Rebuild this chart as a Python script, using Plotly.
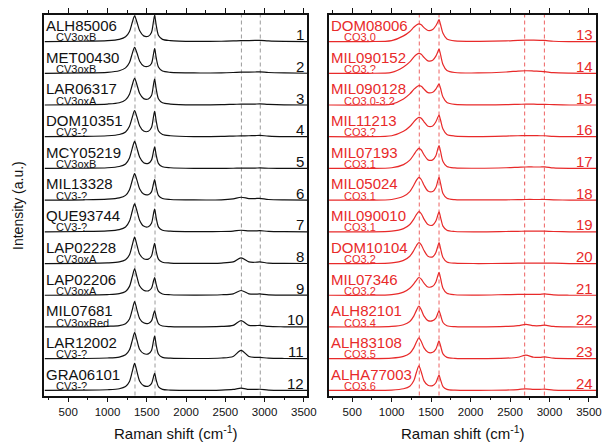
import plotly.graph_objects as go

# Raman shift sampling grid (cm-1)
shift = [200, 700, 1000, 1150, 1230, 1280, 1315, 1345, 1375, 1410, 1460, 1520, 1560, 1585, 1600,
         1620, 1650, 1700, 1800, 2100, 2450, 2600, 2700, 2800, 2880, 2940, 3050, 3250, 3600]

cv_names = ["ALH85006", "MET00430", "LAR06317", "DOM10351", "MCY05219", "MIL13328",
            "QUE93744", "LAP02228", "LAP02206", "MIL07681", "LAR12002", "GRA06101"]
cv_types = ["CV3oxB", "CV3oxB", "CV3oxA", "CV3-?", "CV3oxB", "CV3-?",
            "CV3-?", "CV3oxA", "CV3oxA", "CV3oxRed", "CV3-?", "CV3-?"]
cv_numbers = ["1", "2", "3", "4", "5", "6", "7", "8", "9", "10", "11", "12"]

co_names = ["DOM08006", "MIL090152", "MIL090128", "MIL11213", "MIL07193", "MIL05024",
            "MIL090010", "DOM10104", "MIL07346", "ALH82101", "ALH83108", "ALHA77003"]
co_types = ["CO3.0", "CO3.?", "CO3.0-3.2", "CO3.?", "CO3.1", "CO3.1",
            "CO3.1", "CO3.2", "CO3.2", "CO3.4", "CO3.5", "CO3.6"]
co_numbers = ["13", "14", "15", "16", "17", "18", "19", "20", "21", "22", "23", "24"]

# Intensities (a.u., one stack row = 1)
cv_spectra = [
    [.02,.03,.05,.09,.17,.34,.62,.83,.63,.36,.20,.19,.31,.65,.85,.54,.21,.09,.05,.025,.03,.04,.05,.05,.055,.06,.04,.025,.02],
    [.02,.03,.05,.10,.19,.36,.64,.84,.66,.40,.25,.24,.33,.62,.80,.51,.21,.09,.05,.03,.035,.045,.055,.055,.06,.065,.045,.03,.02],
    [.02,.03,.05,.09,.18,.36,.65,.86,.66,.38,.22,.21,.32,.65,.84,.53,.21,.09,.05,.025,.03,.04,.045,.045,.05,.055,.04,.025,.02],
    [.02,.03,.05,.09,.17,.35,.63,.84,.64,.36,.20,.19,.31,.64,.82,.52,.20,.09,.05,.025,.03,.04,.045,.05,.055,.06,.04,.025,.02],
    [.02,.025,.04,.08,.16,.35,.65,.87,.66,.37,.20,.18,.28,.55,.70,.44,.17,.07,.04,.02,.02,.025,.03,.03,.03,.035,.025,.02,.02],
    [.02,.03,.05,.09,.17,.35,.64,.86,.65,.37,.21,.19,.28,.53,.67,.42,.16,.07,.04,.025,.03,.06,.11,.07,.07,.075,.04,.025,.02],
    [.02,.03,.05,.09,.17,.36,.67,.90,.68,.38,.20,.18,.29,.58,.74,.46,.17,.07,.04,.025,.03,.045,.07,.05,.05,.055,.035,.025,.02],
    [.02,.025,.04,.07,.14,.30,.60,.85,.60,.31,.17,.16,.26,.52,.66,.40,.15,.06,.035,.025,.035,.07,.20,.07,.06,.07,.035,.025,.02],
    [.02,.025,.04,.07,.14,.30,.60,.85,.60,.31,.18,.16,.24,.46,.58,.36,.14,.06,.035,.025,.035,.065,.17,.065,.055,.06,.03,.025,.02],
    [.02,.025,.04,.06,.12,.27,.56,.82,.56,.28,.15,.13,.21,.42,.53,.33,.12,.05,.03,.02,.035,.07,.22,.07,.06,.07,.035,.025,.02],
    [.02,.025,.04,.07,.14,.30,.59,.84,.60,.31,.18,.17,.28,.57,.73,.45,.16,.06,.035,.025,.04,.09,.28,.09,.06,.06,.035,.025,.02],
    [.02,.025,.04,.07,.14,.30,.61,.87,.61,.31,.17,.15,.23,.44,.56,.35,.13,.05,.03,.02,.03,.05,.09,.05,.05,.055,.03,.02,.02],
]

co_spectra = [
    [.02,.02,.05,.20,.34,.47,.54,.58,.55,.46,.37,.40,.52,.64,.71,.55,.28,.10,.04,.025,.04,.06,.065,.065,.06,.055,.03,.02,.02],
    [.02,.02,.05,.22,.38,.53,.61,.65,.62,.52,.41,.43,.56,.70,.78,.60,.30,.11,.045,.03,.06,.09,.10,.09,.08,.07,.04,.025,.02],
    [.02,.02,.05,.21,.37,.51,.59,.63,.61,.52,.41,.42,.52,.63,.69,.54,.27,.10,.04,.025,.03,.04,.045,.045,.04,.04,.03,.02,.02],
    [.02,.02,.05,.19,.34,.49,.58,.63,.60,.49,.35,.36,.49,.63,.70,.54,.26,.09,.04,.025,.04,.05,.055,.055,.05,.05,.03,.02,.02],
    [.02,.02,.04,.14,.28,.45,.58,.65,.60,.45,.29,.29,.42,.64,.74,.55,.24,.08,.035,.025,.04,.055,.065,.065,.065,.07,.035,.02,.02],
    [.02,.02,.04,.14,.29,.49,.65,.74,.67,.49,.31,.29,.42,.63,.74,.54,.23,.08,.035,.025,.03,.035,.04,.04,.04,.04,.03,.02,.02],
    [.02,.02,.04,.12,.25,.42,.57,.66,.59,.42,.25,.23,.36,.55,.65,.47,.20,.07,.03,.02,.03,.035,.04,.04,.04,.04,.03,.02,.02],
    [.02,.02,.04,.12,.25,.43,.59,.68,.61,.43,.25,.23,.37,.57,.68,.49,.21,.07,.03,.02,.025,.03,.035,.035,.035,.035,.03,.02,.02],
    [.02,.02,.04,.12,.24,.38,.50,.58,.53,.40,.28,.30,.44,.64,.74,.55,.24,.08,.035,.025,.04,.045,.05,.05,.05,.06,.03,.02,.02],
    [.02,.02,.035,.09,.19,.36,.55,.68,.56,.36,.22,.22,.30,.45,.53,.39,.16,.06,.03,.02,.035,.06,.10,.06,.06,.075,.035,.02,.02],
    [.02,.02,.035,.09,.19,.36,.55,.68,.56,.36,.22,.22,.32,.49,.58,.42,.17,.06,.03,.02,.035,.065,.13,.065,.06,.075,.035,.02,.02],
    [.02,.02,.03,.07,.15,.32,.60,.79,.60,.32,.18,.17,.26,.42,.50,.35,.14,.05,.025,.02,.03,.045,.07,.05,.05,.06,.03,.02,.02],
]

cv_dashes = [1350, 1605, 2705, 2945]
co_dashes = [1350, 1600, 2685, 2935]

x_ticks = [500, 1000, 1500, 2000, 2500, 3000, 3500]

# ---------------- styling ----------------
W, H = 611, 443
FONT = "Arial, Liberation Sans, sans-serif"
BLACK = "#111111"
RED = "#E82A2A"
N = len(cv_names)
BASE = 0.142  # baseline lift inside bottom row

top_px, bot_px = 15, 395.5
ydom = [1 - bot_px / H, 1 - top_px / H]

fig = go.Figure()

panels = [
    dict(xa="x", ya="y", names=cv_names, types=cv_types, nums=cv_numbers, spectra=cv_spectra,
         color=BLACK, dash_color="#9a9a9a", dashes=cv_dashes, rng=[196, 3545],
         dom=[45 / W, 312 / W], sub_shift=11),
    dict(xa="x2", ya="y2", names=co_names, types=co_types, nums=co_numbers, spectra=co_spectra,
         color=RED, dash_color="#EE6262", dashes=co_dashes, rng=[207, 3590],
         dom=[334 / W, 605 / W], sub_shift=13.5),
]

annotations = []
shapes = []
for p in panels:
    for i, vals in enumerate(p["spectra"]):
        off = (N - 1 - i) + BASE
        fig.add_trace(go.Scatter(
            x=shift, y=[v + off for v in vals], mode="lines",
            line=dict(color=p["color"], width=1.2, shape="spline", smoothing=0.8),
            xaxis=p["xa"], yaxis=p["ya"], showlegend=False, hoverinfo="skip"))
        annotations.append(dict(
            x=p["rng"][0], y=off + 0.53, xref=p["xa"], yref=p["ya"], text=p["names"][i],
            xanchor="left", yanchor="middle", xshift=1, showarrow=False, borderpad=0,
            font=dict(family=FONT, size=15, color=p["color"])))
        annotations.append(dict(
            x=p["rng"][0], y=off + 0.16, xref=p["xa"], yref=p["ya"], text=p["types"][i],
            xanchor="left", yanchor="middle", xshift=p["sub_shift"], showarrow=False, borderpad=0,
            font=dict(family=FONT, size=11, color=p["color"])))
        annotations.append(dict(
            x=p["rng"][1], y=off + 0.24, xref=p["xa"], yref=p["ya"], text=p["nums"][i],
            xanchor="right", yanchor="middle", xshift=-2, showarrow=False, borderpad=0,
            font=dict(family=FONT, size=15, color=p["color"])))
    for d in p["dashes"]:
        shapes.append(dict(type="line", xref=p["xa"], yref=p["ya"] + " domain",
                           x0=d, x1=d, y0=0, y1=1, layer="below",
                           line=dict(color=p["dash_color"], width=1, dash="4px,3px")))
    cx = (p["dom"][0] + p["dom"][1]) / 2
    annotations.append(dict(
        x=cx, y=0, xref="paper", yref="paper",
        text="Raman shift (cm<sup>-1</sup>)", showarrow=False, borderpad=0,
        xanchor="center", yanchor="bottom",
        font=dict(family=FONT, size=15, color=BLACK)))

annotations.append(dict(
    x=19 / W, y=(ydom[0] + ydom[1]) / 2, xref="paper", yref="paper",
    text="Intensity (a.u.)", textangle=-90, showarrow=False,
    xanchor="center", yanchor="middle",
    font=dict(family=FONT, size=14, color=BLACK)))


def xaxis_style(p):
    return dict(domain=p["dom"], range=p["rng"], anchor=p["ya"],
                tickmode="array", tickvals=x_ticks, ticktext=[str(t) for t in x_ticks],
                ticks="outside", ticklen=5, tickwidth=1, tickcolor=BLACK,
                minor=dict(tickmode="linear", tick0=250, dtick=250, ticks="outside",
                           ticklen=3, tickwidth=1, tickcolor=BLACK),
                showline=True, linecolor=BLACK, linewidth=1.5, mirror="allticks",
                showgrid=False, zeroline=False,
                tickfont=dict(family=FONT, size=11.5, color=BLACK))


def yaxis_style(p):
    return dict(domain=ydom, range=[0, 12.0], anchor=p["xa"],
                showticklabels=False, ticks="", showgrid=False, zeroline=False,
                showline=True, linecolor=BLACK, linewidth=1.5, mirror=True)


fig.update_layout(
    width=W, height=H, autosize=False,
    margin=dict(l=0, r=0, t=0, b=0),
    paper_bgcolor="white", plot_bgcolor="white",
    xaxis=xaxis_style(panels[0]), yaxis=yaxis_style(panels[0]),
    xaxis2=xaxis_style(panels[1]), yaxis2=yaxis_style(panels[1]),
    annotations=annotations, shapes=shapes,
)

fig.write_html("out.html")
